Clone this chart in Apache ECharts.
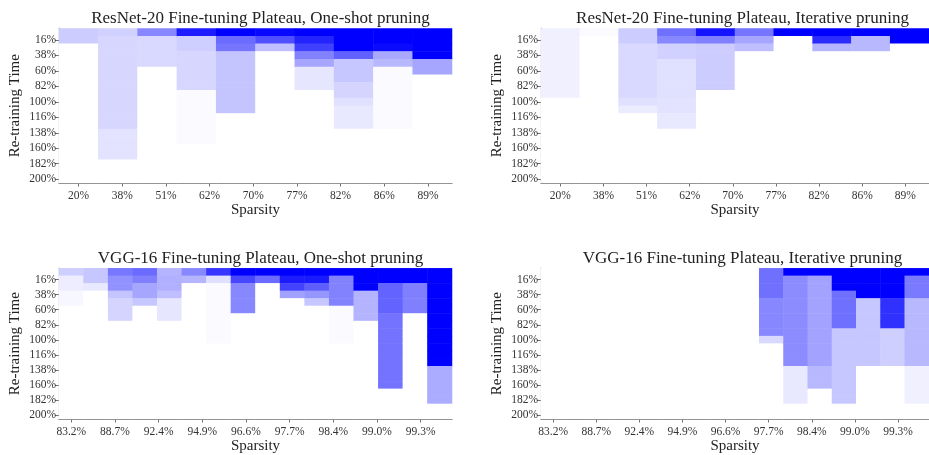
<!DOCTYPE html>
<html>
<head>
<meta charset="utf-8">
<script src="https://cdn.jsdelivr.net/npm/echarts@6/dist/echarts.min.js"></script>
<style>
  html, body { margin: 0; padding: 0; background: #ffffff; }
  #chart { width: 929px; height: 455px; }
</style>
</head>
<body>
<div id="chart"></div>
<script>
// Tick labels
const resnetSparsity = ['20%', '38%', '51%', '62%', '70%', '77%', '82%', '86%', '89%'];
const vggSparsity = ['83.2%', '88.7%', '92.4%', '94.9%', '96.6%', '97.7%', '98.4%', '99.0%', '99.3%'];
const retrainTicks = ['16%', '38%', '60%', '82%', '100%', '116%', '138%', '160%', '182%', '200%'];

// Plateau intensity per sparsity column, 20 re-training rows each (top row first), 0..1
const resnetOneShot = [
  [.20, .20, 0, 0, 0, 0, 0, 0, 0, 0, 0, 0, 0, 0, 0, 0, 0, 0, 0, 0],
  [.18, .16, .16, .16, .16, .16, .16, .16, .16, .16, .16, .16, .16, .11, .11, .11, .11, 0, 0, 0],
  [.47, .15, .15, .15, .15, 0, 0, 0, 0, 0, 0, 0, 0, 0, 0, 0, 0, 0, 0, 0],
  [.89, .19, .19, .16, .16, .16, .16, .16, .02, .02, .02, .02, .02, .02, .02, 0, 0, 0, 0, 0],
  [1, .58, .54, .23, .23, .23, .23, .23, .23, .23, .23, 0, 0, 0, 0, 0, 0, 0, 0, 0],
  [.97, .69, .25, 0, 0, 0, 0, 0, 0, 0, 0, 0, 0, 0, 0, 0, 0, 0, 0, 0],
  [1, .86, .75, .49, .35, .10, .10, .10, 0, 0, 0, 0, 0, 0, 0, 0, 0, 0, 0, 0],
  [1, 1, 1, .62, .22, .22, .22, .17, .17, .12, .09, .09, .09, 0, 0, 0, 0, 0, 0, 0],
  [1, 1, .96, .34, .28, .02, .02, .02, .02, .02, .02, .02, .02, 0, 0, 0, 0, 0, 0, 0],
  [1, 1, 1, 1, .35, .35, 0, 0, 0, 0, 0, 0, 0, 0, 0, 0, 0, 0, 0, 0]
];

const resnetIterative = [
  [.06, .06, .06, .06, .06, .06, .06, .06, .06, 0, 0, 0, 0, 0, 0, 0, 0, 0, 0, 0],
  [.02, 0, 0, 0, 0, 0, 0, 0, 0, 0, 0, 0, 0, 0, 0, 0, 0, 0, 0, 0],
  [.20, .20, .15, .15, .15, .15, .15, .15, .15, .12, .075, 0, 0, 0, 0, 0, 0, 0, 0, 0],
  [.56, .47, .18, .18, .12, .12, .12, .12, .12, .11, .11, .09, .09, 0, 0, 0, 0, 0, 0, 0],
  [.92, .50, .20, .20, .20, .20, .20, .20, 0, 0, 0, 0, 0, 0, 0, 0, 0, 0, 0, 0],
  [.54, .35, .25, 0, 0, 0, 0, 0, 0, 0, 0, 0, 0, 0, 0, 0, 0, 0, 0, 0],
  [1, 0, 0, 0, 0, 0, 0, 0, 0, 0, 0, 0, 0, 0, 0, 0, 0, 0, 0, 0],
  [1, .83, .29, 0, 0, 0, 0, 0, 0, 0, 0, 0, 0, 0, 0, 0, 0, 0, 0, 0],
  [1, .28, .28, 0, 0, 0, 0, 0, 0, 0, 0, 0, 0, 0, 0, 0, 0, 0, 0, 0],
  [1, 1, 0, 0, 0, 0, 0, 0, 0, 0, 0, 0, 0, 0, 0, 0, 0, 0, 0, 0]
];

const vggOneShot = [
  [.19, .07, .07, .03, .03, 0, 0, 0, 0, 0, 0, 0, 0, 0, 0, 0, 0, 0, 0, 0],
  [.22, .22, .09, 0, 0, 0, 0, 0, 0, 0, 0, 0, 0, 0, 0, 0, 0, 0, 0, 0],
  [.53, .43, .43, .23, .17, .17, .17, 0, 0, 0, 0, 0, 0, 0, 0, 0, 0, 0, 0, 0],
  [.58, .50, .35, .35, .22, 0, 0, 0, 0, 0, 0, 0, 0, 0, 0, 0, 0, 0, 0, 0],
  [.29, .31, .31, .25, .10, .10, .10, 0, 0, 0, 0, 0, 0, 0, 0, 0, 0, 0, 0, 0],
  [.47, .29, 0, 0, 0, 0, 0, 0, 0, 0, 0, 0, 0, 0, 0, 0, 0, 0, 0, 0],
  [.79, .12, .02, .02, .02, .02, .02, .02, .02, .02, 0, 0, 0, 0, 0, 0, 0, 0, 0, 0],
  [1, .72, .47, .47, .47, .47, 0, 0, 0, 0, 0, 0, 0, 0, 0, 0, 0, 0, 0, 0],
  [1, .58, 0, 0, 0, 0, 0, 0, 0, 0, 0, 0, 0, 0, 0, 0, 0, 0, 0, 0],
  [1, .89, .74, .37, 0, 0, 0, 0, 0, 0, 0, 0, 0, 0, 0, 0, 0, 0, 0, 0],
  [1, .90, .63, .41, .22, 0, 0, 0, 0, 0, 0, 0, 0, 0, 0, 0, 0, 0, 0, 0],
  [1, .49, .49, .49, .49, .02, .02, .02, .02, .02, 0, 0, 0, 0, 0, 0, 0, 0, 0, 0],
  [1, 1, 1, .30, .30, .30, .30, 0, 0, 0, 0, 0, 0, 0, 0, 0, 0, 0, 0, 0],
  [1, 1, .61, .61, .61, .61, .55, .55, .55, .55, .55, .55, .55, .55, .55, .55, 0, 0, 0, 0],
  [1, 1, .50, .50, .50, .50, 0, 0, 0, 0, 0, 0, 0, 0, 0, 0, 0, 0, 0, 0],
  [1, 1, 1, 1, 1, 1, 1, 1, 1, 1, 1, 1, 1, .33, .33, .33, .33, .33, 0, 0]
];

const vggIterative = [
  [0, 0, 0, 0, 0, 0, 0, 0, 0, 0, 0, 0, 0, 0, 0, 0, 0, 0, 0, 0],
  [0, 0, 0, 0, 0, 0, 0, 0, 0, 0, 0, 0, 0, 0, 0, 0, 0, 0, 0, 0],
  [0, 0, 0, 0, 0, 0, 0, 0, 0, 0, 0, 0, 0, 0, 0, 0, 0, 0, 0, 0],
  [0, 0, 0, 0, 0, 0, 0, 0, 0, 0, 0, 0, 0, 0, 0, 0, 0, 0, 0, 0],
  [0, 0, 0, 0, 0, 0, 0, 0, 0, 0, 0, 0, 0, 0, 0, 0, 0, 0, 0, 0],
  [0, 0, 0, 0, 0, 0, 0, 0, 0, 0, 0, 0, 0, 0, 0, 0, 0, 0, 0, 0],
  [0, 0, 0, 0, 0, 0, 0, 0, 0, 0, 0, 0, 0, 0, 0, 0, 0, 0, 0, 0],
  [0, 0, 0, 0, 0, 0, 0, 0, 0, 0, 0, 0, 0, 0, 0, 0, 0, 0, 0, 0],
  [0, 0, 0, 0, 0, 0, 0, 0, 0, 0, 0, 0, 0, 0, 0, 0, 0, 0, 0, 0],
  [.56, .56, .56, .56, .47, .47, .47, .47, .47, .15, 0, 0, 0, 0, 0, 0, 0, 0, 0, 0],
  [1, .45, .45, .45, .45, .45, .45, .45, .45, .45, .45, .45, .45, .09, .09, .09, .09, .09, 0, 0],
  [1, .36, .36, .36, .36, .36, .36, .36, .36, .36, .36, .36, .36, .28, .28, .28, 0, 0, 0, 0],
  [1, 1, 1, .56, .56, .56, .56, .56, .22, .22, .22, .22, .22, .22, .22, .22, .22, .22, 0, 0],
  [1, 1, 1, 1, .22, .22, .22, .22, .22, .22, .22, .22, .22, 0, 0, 0, 0, 0, 0, 0],
  [1, 1, 1, 1, .81, .81, .81, .81, .19, .19, .19, .19, .19, 0, 0, 0, 0, 0, 0, 0],
  [1, .52, .52, .52, .28, .28, .28, .28, .28, .28, .28, .28, .28, .06, .06, .06, .06, .06, 0, 0]
];

const FONT = '"Liberation Serif", "DejaVu Serif", serif';
const AXIS_COLOR = '#707070';
const PLOT_W = 393;
const PLOT_H = 154.6;

const panels = [
  { title: 'ResNet-20 Fine-tuning Plateau, One-shot pruning', cols: resnetOneShot, ticks: resnetSparsity, left: 59, top: 28.4 },
  { title: 'ResNet-20 Fine-tuning Plateau, Iterative pruning', cols: resnetIterative, ticks: resnetSparsity, left: 541, top: 28.4 },
  { title: 'VGG-16 Fine-tuning Plateau, One-shot pruning', cols: vggOneShot, ticks: vggSparsity, left: 59, top: 268.3 },
  { title: 'VGG-16 Fine-tuning Plateau, Iterative pruning', cols: vggIterative, ticks: vggSparsity, left: 541, top: 268.3 }
];

const grids = [], xAxes = [], yAxes = [], series = [], titles = [];

panels.forEach(function (p, i) {
  const nCols = p.cols.length;
  const nRows = p.cols[0].length;
  const nTicks = p.ticks.length;

  grids.push({ left: p.left, top: p.top, width: PLOT_W, height: PLOT_H, containLabel: false });

  titles.push({
    text: p.title,
    left: p.left + PLOT_W / 2,
    top: p.top - 23,
    textAlign: 'center',
    textStyle: { fontFamily: FONT, fontSize: 17, fontWeight: 'normal', color: '#222' }
  });

  // sparsity labels: spaced evenly over the plot, starting at the first column centre
  const xTickVals = p.ticks.map(function (_, k) { return 0.5 + k * nCols / nTicks; });
  // re-training labels on every second row
  const yTickVals = retrainTicks.map(function (_, k) { return 2 * k + 1.5; });

  xAxes.push({
    type: 'category', gridIndex: i, show: false,
    data: p.cols.map(function (_, c) { return c; })
  });
  xAxes.push({
    type: 'value', gridIndex: i, position: 'bottom', min: 0, max: nCols,
    splitLine: { show: false },
    axisLine: { show: true, lineStyle: { color: AXIS_COLOR, width: 1.2 } },
    axisTick: { show: true, length: 3.5, customValues: xTickVals, lineStyle: { color: AXIS_COLOR } },
    axisLabel: {
      show: true, customValues: xTickVals, margin: 7,
      fontFamily: FONT, fontSize: 11.5, color: '#333',
      formatter: function (v) { return p.ticks[Math.round((v - 0.5) * nTicks / nCols)]; }
    },
    name: 'Sparsity', nameLocation: 'middle', nameGap: 20,
    nameTextStyle: { fontFamily: FONT, fontSize: 15, color: '#222' }
  });

  yAxes.push({
    type: 'category', gridIndex: i, show: false, inverse: true,
    data: p.cols[0].map(function (_, r) { return r; })
  });
  yAxes.push({
    type: 'value', gridIndex: i, position: 'left', min: 0, max: nRows, inverse: true,
    splitLine: { show: false },
    axisLine: { show: true, lineStyle: { color: AXIS_COLOR, width: 1.2 } },
    axisTick: { show: true, length: 4, customValues: yTickVals, lineStyle: { color: AXIS_COLOR } },
    axisLabel: {
      show: true, customValues: yTickVals, margin: 3,
      fontFamily: FONT, fontSize: 11.5, color: '#333',
      formatter: function (v) { return retrainTicks[Math.round((v - 1.5) / 2)]; }
    },
    name: 'Re-training Time', nameLocation: 'middle', nameGap: 36,
    nameTextStyle: { fontFamily: FONT, fontSize: 15, color: '#222' }
  });

  const cells = [];
  p.cols.forEach(function (col, c) {
    col.forEach(function (v, r) { cells.push([c, r, v]); });
  });

  series.push({
    type: 'heatmap',
    xAxisIndex: 2 * i,
    yAxisIndex: 2 * i,
    data: cells,
    itemStyle: { borderWidth: 0 },
    emphasis: { disabled: true },
    silent: true
  });
});

const chart = echarts.init(document.getElementById('chart'), null, { renderer: 'canvas' });
chart.setOption({
  backgroundColor: '#ffffff',
  animation: false,
  title: titles,
  grid: grids,
  xAxis: xAxes,
  yAxis: yAxes,
  visualMap: {
    type: 'continuous', show: false, min: 0, max: 1,
    seriesIndex: [0, 1, 2, 3],
    inRange: { color: ['#ffffff', '#0000ff'] }
  },
  series: series
});
</script>
</body>
</html>
